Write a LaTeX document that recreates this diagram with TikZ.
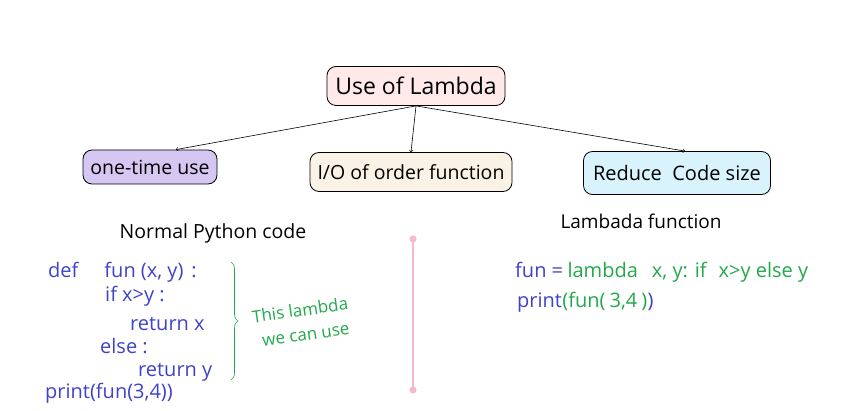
\documentclass[tikz,border=0pt]{standalone}
\usepackage{fontspec}
\setmainfont{Open Sans}
\usetikzlibrary{decorations.pathreplacing}
\definecolor{codeblue}{HTML}{3E43C8}
\definecolor{codegreen}{HTML}{22A84B}
\definecolor{linepink}{HTML}{F7B8CB}
\tikzset{
    usebox/.style={draw, thick, rounded corners=9pt, align=center, inner sep=0pt},
    code/.style={anchor=base west, inner sep=0pt, font=\fontsize{20}{22}\selectfont},
    note/.style={codegreen, rotate=8, inner sep=0pt, font=\fontsize{17}{20}\selectfont},
}

\begin{document}
\begin{tikzpicture}[x=1pt, y=-1pt]

        \useasboundingbox (0, 0) rectangle (857, 411);

        \node[usebox, fill=pink!35, minimum width=178pt, minimum height=39pt,
            font=\fontsize{23}{26}\selectfont] (lambda) at (416, 86) {Use of Lambda};

        \node[usebox, fill=blue!50!violet!22, minimum width=134pt, minimum height=34pt,
            font=\fontsize{19.5}{22}\selectfont] (onetime) at (150, 167) {one-time use};
        \node[usebox, fill=yellow!15!brown!12, minimum width=202pt, minimum height=39pt,
            font=\fontsize{19.5}{22}\selectfont] (order) at (411, 172) {I/O of order function};
        \node[usebox, fill=cyan!15, minimum width=187pt, minimum height=43pt,
            font=\fontsize{20}{22}\selectfont] (reduce) at (677, 173) {Reduce\ \ Code size};

        \draw[->, semithick] (lambda.south) -- ([xshift=26pt]onetime.north);
        \draw[->, semithick] (lambda.south) -- (order.north);
        \draw[->, semithick] (lambda.south) -- ([xshift=8pt]reduce.north);

        \node[font=\fontsize{19.5}{22}\selectfont] (normal) at (213, 233) {Normal Python code};
        \node[font=\fontsize{19}{22}\selectfont] (lambada) at (641, 221) {Lambada function};

        \draw[linepink, line width=2pt] (413, 239) coordinate (top) -- (413, 390) coordinate (bottom);
        \fill[linepink] (top) circle (3.5pt);
        \fill[linepink] (bottom) circle (3.5pt);

        % normal python code
        \begin{scope}[codeblue]
            \node[code] (line1) at (48, 278) {def\hspace{26pt}fun (x, y)\hspace{8pt}:};
            \node[code] (line2) at (105, 302) {if x>y :};
            \node[code] (line3) at (130, 331) {return x};
            \node[code] (line4) at (100, 354) {else :};
            \node[code] (line5) at (138, 377) {return y};
            \node[code] (line6) at (45, 399) {print(fun(3,4))};
        \end{scope}

        \draw[codegreen, semithick, decorate, decoration={brace, amplitude=7pt}]
            (231, 262) -- (231, 380);
        \node[note] (thislambda) at (300, 310) {This lambda};
        \node[note] (wecanuse) at (306, 336) {we can use};

        % lambda version
        \node[code, codeblue] (fun) at (515, 278) {fun =};
        \node[code, codegreen] (lambdaexpr) at ([xshift=4pt]fun.base east)
            {lambda\hspace{14pt}x, y: if\hspace{12pt}x>y else y};
        \node[code, codeblue] (print) at (517, 308) {print\hspace{4pt}};
        \node[code, codegreen] (callfun) at (print.base east) {(fun(\hspace{4pt}3,4\hspace{4pt})};
        \node[code, codeblue] (close) at (callfun.base east) {)};

\end{tikzpicture}
\end{document}
